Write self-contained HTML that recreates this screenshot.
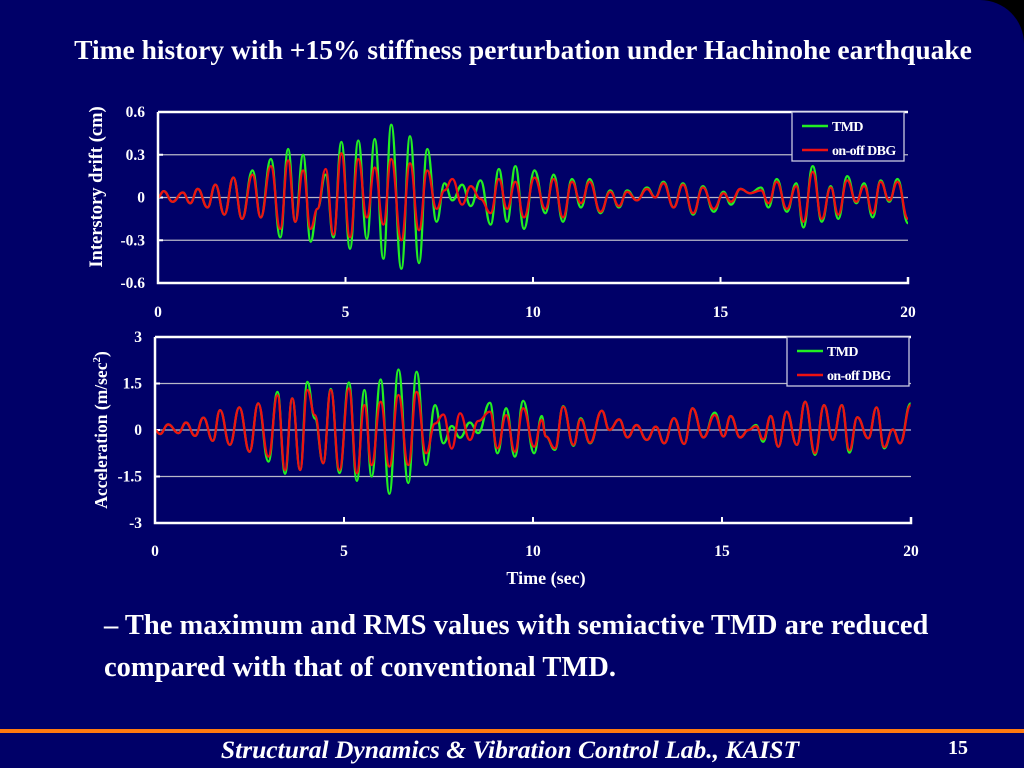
<!DOCTYPE html>
<html><head><meta charset="utf-8"><style>
html,body{margin:0;padding:0;background:#000;width:1024px;height:768px;overflow:hidden}
#slide{position:absolute;left:0;top:0;width:1024px;height:768px;background:#000068;border-top-right-radius:44px;font-family:"Liberation Serif",serif;color:#fff}
.t{position:absolute;white-space:nowrap;font-weight:bold}
svg text{font-family:"Liberation Serif",serif;font-weight:bold;fill:#fff}
</style></head><body>
<div id="slide">
<div class="t" style="left:0;width:1046px;text-align:center;top:34px;font-size:27.5px">Time history with +15% stiffness perturbation under Hachinohe earthquake</div>
<svg id="chart" width="1024" height="600" style="position:absolute;left:0;top:0"></svg>
<div class="t" style="left:104px;top:605px;font-size:28.5px;line-height:42px">– The maximum and RMS values with semiactive TMD are reduced<br>compared with that of conventional TMD.</div>
<div style="position:absolute;left:0;top:729px;width:1024px;height:4px;background:#ff7a10"></div>
<div class="t" style="left:0;width:1020px;text-align:center;top:735px;font-size:25.5px;font-style:italic">Structural Dynamics &amp; Vibration Control Lab., KAIST</div>
<div class="t" style="left:948px;top:737px;font-size:20px">15</div>
</div>
<script>
// top chart: interstory drift
const driftT=[0,0.15,0.39,0.66,0.86,1.06,1.32,1.53,1.77,2.01,2.24,2.52,2.74,3.01,3.26,3.47,3.66,3.87,4.07,4.25,4.47,4.68,4.89,5.12,5.34,5.57,5.78,6.01,6.22,6.49,6.72,6.96,7.18,7.43,7.64,7.85,8.11,8.34,8.60,8.87,9.09,9.31,9.53,9.76,10.04,10.33,10.55,10.80,11.04,11.28,11.51,11.80,12.06,12.29,12.51,12.77,13.04,13.26,13.48,13.75,14.00,14.27,14.53,14.82,15.08,15.28,15.53,15.79,16.08,16.28,16.50,16.77,17.02,17.21,17.46,17.70,17.94,18.14,18.38,18.62,18.83,19.06,19.27,19.50,19.72,20.0];
const driftTMD=[0,0.045,-0.03,0.035,-0.04,0.06,-0.07,0.09,-0.12,0.14,-0.15,0.19,-0.14,0.27,-0.28,0.34,-0.17,0.30,-0.31,-0.08,0.16,-0.28,0.39,-0.36,0.40,-0.29,0.41,-0.43,0.51,-0.50,0.43,-0.46,0.34,-0.17,0.10,-0.02,0.09,-0.06,0.12,-0.19,0.20,-0.17,0.22,-0.22,0.19,-0.11,0.16,-0.17,0.13,-0.07,0.13,-0.11,0.05,-0.07,0.05,-0.02,0.07,0,0.11,-0.07,0.10,-0.12,0.08,-0.10,0.04,-0.05,0.06,0.03,0.07,-0.07,0.13,-0.10,0.10,-0.21,0.22,-0.17,0.08,-0.15,0.15,-0.04,0.10,-0.14,0.12,-0.03,0.13,-0.18];
const driftDBG=[0,0.045,-0.03,0.035,-0.04,0.06,-0.07,0.09,-0.12,0.14,-0.15,0.16,-0.14,0.22,-0.22,0.26,-0.17,0.19,-0.22,-0.08,0.20,-0.26,0.31,-0.28,0.27,-0.14,0.21,-0.19,0.27,-0.30,0.24,-0.23,0.19,-0.08,0.05,0.13,-0.05,0.08,-0.01,-0.11,0.13,-0.08,0.11,-0.14,0.14,-0.08,0.13,-0.14,0.11,-0.04,0.11,-0.10,0.04,-0.06,0.04,-0.02,0.06,0,0.10,-0.07,0.09,-0.11,0.07,-0.08,0.03,-0.03,0.06,0.03,0.05,-0.04,0.11,-0.08,0.08,-0.17,0.18,-0.15,0.07,-0.12,0.12,-0.03,0.08,-0.11,0.11,-0.02,0.11,-0.15];
const driftTicks=["0.6","0.3","0","-0.3","-0.6"];
// bottom chart: acceleration
const accT=[0,0.13,0.35,0.62,0.82,1.06,1.28,1.53,1.72,1.98,2.23,2.50,2.73,3.00,3.24,3.44,3.63,3.84,4.03,4.23,4.45,4.65,4.88,5.13,5.34,5.54,5.73,5.97,6.20,6.44,6.70,6.92,7.17,7.41,7.63,7.85,8.07,8.33,8.55,8.86,9.06,9.29,9.52,9.74,10.03,10.23,10.34,10.58,10.80,11.07,11.26,11.51,11.82,12.02,12.28,12.50,12.74,13.01,13.25,13.47,13.73,14.00,14.22,14.51,14.81,15.04,15.23,15.48,15.70,15.90,16.09,16.29,16.49,16.71,16.98,17.20,17.46,17.70,17.93,18.17,18.37,18.58,18.87,19.09,19.29,19.52,19.71,19.99];
const accTMD=[0,-0.13,0.18,-0.1,0.24,-0.19,0.4,-0.35,0.64,-0.48,0.73,-0.7,0.86,-1.02,1.23,-1.41,1.02,-1.29,1.55,0.37,-1.07,1.32,-1.39,1.53,-1.64,1.29,-1.5,1.63,-2.06,1.95,-1.71,1.88,-1.13,0.8,-0.43,0.13,-0.25,0.24,-0.1,0.88,-0.75,0.7,-0.86,0.94,-0.75,0.45,-0.21,-0.64,0.77,-0.51,0.38,-0.43,0.62,0,0.34,-0.24,0.16,-0.32,0.11,-0.43,0.38,-0.45,0.7,-0.24,0.56,-0.21,0.45,-0.24,0,0.16,-0.38,0.45,-0.54,0.59,-0.48,0.91,-0.8,0.8,-0.32,0.8,-0.73,0.41,-0.27,0.73,-0.59,0.02,-0.43,0.86];
const accDBG=[0,-0.13,0.18,-0.1,0.24,-0.19,0.4,-0.35,0.64,-0.48,0.73,-0.7,0.86,-0.86,1.12,-1.29,1.02,-1.29,1.29,0.48,-1.07,1.29,-1.29,1.34,-1.39,0.8,-1.13,0.91,-1.18,1.13,-1.13,1.23,-0.75,0.21,0.5,-0.6,0.54,-0.32,0.29,0.59,-0.59,0.48,-0.7,0.7,-0.54,0.32,-0.21,-0.59,0.75,-0.48,0.34,-0.41,0.62,0,0.34,-0.24,0.16,-0.32,0.11,-0.43,0.38,-0.45,0.7,-0.24,0.48,-0.21,0.45,-0.24,0,0.12,-0.3,0.45,-0.54,0.59,-0.48,0.91,-0.75,0.8,-0.32,0.8,-0.65,0.41,-0.27,0.73,-0.55,0.02,-0.43,0.8];
const accTicks=["3","1.5","0","-1.5","-3"];
const timeTicks=["0","5","10","15","20"];
const legendNames=["TMD","on-off DBG"];

const svg=document.getElementById('chart');
const NS='http://www.w3.org/2000/svg';
function mk(tag,attrs,parent){const e=document.createElementNS(NS,tag);for(const k in attrs)e.setAttribute(k,attrs[k]);(parent||svg).appendChild(e);return e;}
function panel(cfg){
  const g=mk('g',{});
  
  
  const L=cfg.l,R=cfg.r,T=cfg.t,B=cfg.b;
  const xs=t=>L+(t/20)*(R-L);
  const ys=v=>T+(cfg.max-v)/(2*cfg.max)*(B-T);
  cfg.ticks.forEach((lab,i)=>{
    const v=parseFloat(lab);const y=ys(v);
    if(i>0&&i<cfg.ticks.length-1){const gl=mk('line',{x1:L,x2:R,y1:y,y2:y,stroke:'#b8b8c8','stroke-width':1.3},g);
      }
    mk('line',{x1:L,x2:L+5,y1:y,y2:y,stroke:'#fff','stroke-width':2},g);
    const tx=mk('text',{x:L-13,y:y+5,'text-anchor':'end','font-size':15.5},g);tx.textContent=lab;
    
  });
  timeTicks.forEach(lab=>{
    const x=xs(parseFloat(lab));
    mk('line',{x1:x,x2:x,y1:B,y2:B-6,stroke:'#fff','stroke-width':2},g);
    const tx=mk('text',{x:x,y:cfg.xl,'text-anchor':'middle','font-size':15.5},g);tx.textContent=lab;
    
  });
  function path(ts,vs,col,nm){
    let d='M'+xs(ts[0])+','+ys(vs[0]);
    for(let i=1;i<ts.length;i++){const x0=xs(ts[i-1]),x1=xs(ts[i]),y0=ys(vs[i-1]),y1=ys(vs[i]);const m=(x1-x0)*0.45;
      d+=' C'+(x0+m)+','+y0+' '+(x1-m)+','+y1+' '+x1+','+y1;}
    const p=mk('path',{d:d,fill:'none',stroke:col,'stroke-width':2.3},g);
    
  }
  path(cfg.ts,cfg.a,'#22ee22','tmd-line');
  path(cfg.ts,cfg.b2,'#ee1111','on-off-dbg-line');
  const ax=mk('path',{d:`M${L},${T} L${L},${B} L${R},${B} L${R},${B-6} M${L},${T} L${R},${T}`,fill:'none',stroke:'#fff','stroke-width':2.5},g);
  
  const lg=mk('g',{},g);
  mk('rect',{x:cfg.lx,y:T,width:cfg.lw,height:49,fill:'#000068',stroke:'#c8c8e0','stroke-width':1.3},lg);
  ['#22ee22','#ee1111'].forEach((c,i)=>{
    const yy=T+14+i*24;
    mk('line',{x1:cfg.lx+10,x2:cfg.lx+36,y1:yy,y2:yy,stroke:c,'stroke-width':2.5},lg);
    const tx=mk('text',{x:cfg.lx+40,y:yy+5,'font-size':14,'letter-spacing':'-0.6'},lg);tx.textContent=legendNames[i];
    
  });
}
panel({name:'drift-chart',l:158,r:908,t:112,b:283,max:0.6,ticks:driftTicks,xl:317,ts:driftT,a:driftTMD,b2:driftDBG,lx:792,lw:112});
panel({name:'acceleration-chart',l:155,r:911,t:337,b:523,max:3,ticks:accTicks,xl:556,ts:accT,a:accTMD,b2:accDBG,lx:787,lw:122});
let t1=mk('text',{x:0,y:0,'font-size':18.5,'text-anchor':'middle',transform:'translate(102,187) rotate(-90)'});t1.textContent='Interstory drift (cm)';

let t2=mk('text',{x:0,y:0,'font-size':17.5,'text-anchor':'middle',transform:'translate(107,430) rotate(-90)'});
t2.innerHTML='Acceleration (m/sec<tspan font-size="11" dy="-7">2</tspan><tspan dy="7">)</tspan>';

let t3=mk('text',{x:546,y:584,'font-size':18,'text-anchor':'middle'});t3.textContent='Time (sec)';

</script>
</body></html>
